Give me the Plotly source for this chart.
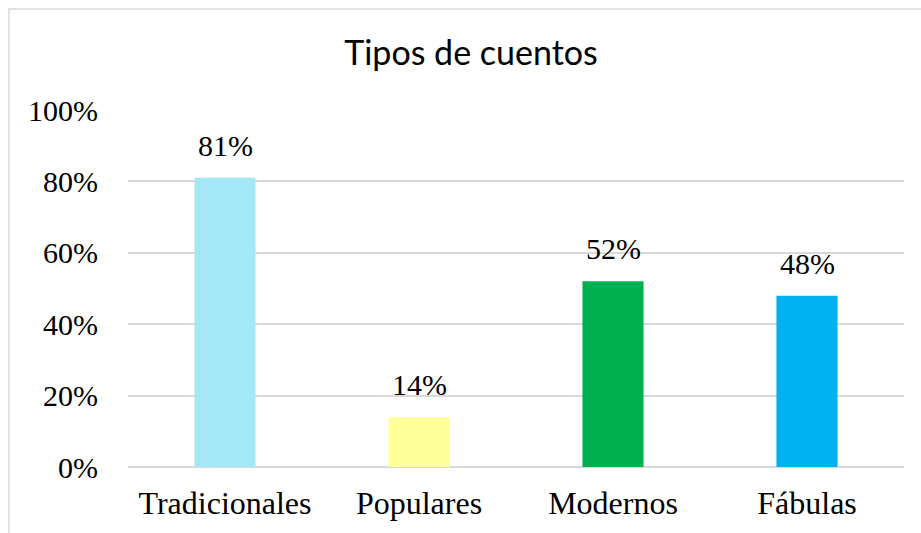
import plotly.graph_objects as go

categories = ["Tradicionales", "Populares", "Modernos", "Fábulas"]
values = [0.81, 0.14, 0.52, 0.48]
colors = ["#A5E8F5", "#FFFF9B", "#00B050", "#00B0F0"]
tick_vals = [0, 0.2, 0.4, 0.6, 0.8, 1.0]
tick_text = ["0%", "20%", "40%", "60%", "80%", "100%"]

serif = "Liberation Serif, Times New Roman, serif"

fig = go.Figure(go.Bar(
    x=categories, y=values, marker=dict(color=colors, line=dict(width=0)),
    hoverinfo="skip",
))

for c, v in zip(categories, values):
    fig.add_annotation(x=c, y=v, text=f"{round(v*100)}%", showarrow=False,
                       yanchor="bottom", yshift=14,
                       font=dict(family=serif, size=30, color="#000000"))

fig.add_shape(type="rect", xref="paper", yref="paper",
              x0=-0.1534, x1=1.05, y0=-0.3, y1=1.283,
              line=dict(color="#D9D9D9", width=1.5), fillcolor="rgba(0,0,0,0)", layer="below")

fig.update_layout(
    width=921, height=533,
    margin=dict(l=128, r=17, t=110, b=66),
    paper_bgcolor="white", plot_bgcolor="white",
    bargap=0.685,
    showlegend=False,
    title=dict(text="Tipos de cuentos", x=471 / 921, xref="container", xanchor="center",
               y=1 - 53 / 533, yref="container", yanchor="middle",
               font=dict(family="Lato, Open Sans, sans-serif", size=34, color="#000000")),
    xaxis=dict(showgrid=False, showline=False, zeroline=False,
               tickfont=dict(family=serif, size=32, color="#000000"),
               ticks="", ticklabelstandoff=14),
    yaxis=dict(range=[0, 1.0], tickvals=tick_vals, ticktext=tick_text,
               showgrid=True, gridcolor="#D9D9D9", gridwidth=1.5,
               zeroline=True, zerolinecolor="#D9D9D9", zerolinewidth=1.5,
               showline=False, ticks="", ticklabelstandoff=29,
               tickfont=dict(family=serif, size=30, color="#000000")),
)

fig.write_html("out.html", config={"displayModeBar": False},
               post_script="document.body.style.margin='0';")
